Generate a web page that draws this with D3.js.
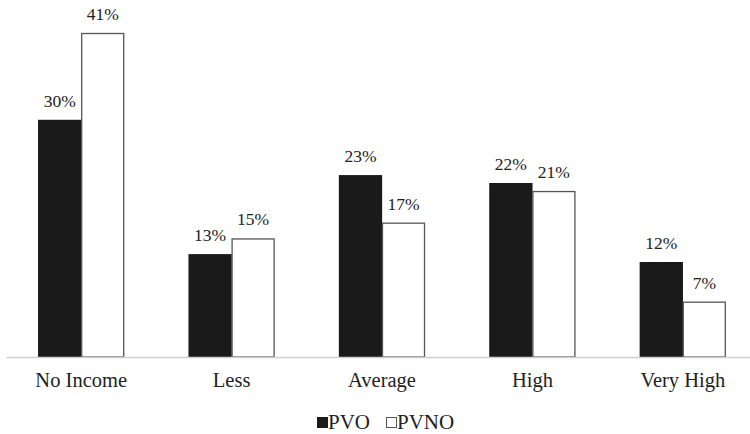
<!DOCTYPE html>
<html>
<head>
<meta charset="utf-8">
<script src="https://cdn.jsdelivr.net/npm/d3@7"></script>
<style>
  html, body { margin: 0; padding: 0; background: #fff; }
  svg { display: block; }
  #chart text { font-family: 'Liberation Serif', 'Times New Roman', Tinos; }
</style>
</head>
<body>
<svg id="chart" width="750" height="434"></svg>
<script>
// Income groups and the share of each group in the two samples (%)
const categories = ["No Income", "Less", "Average", "High", "Very High"];
const seriesNames = ["PVO", "PVNO"];
const pvo  = [30, 13, 23, 22, 12];
const pvno = [41, 15, 17, 21, 7];

const svg = d3.select("#chart");

const x = d3.scaleBand().domain(categories).range([6, 758]);
const xs = d3.scaleBand().domain(seriesNames).range([0, 86]);
const y = d3.scaleLinear().domain([0, 41]).range([357, 33]);

const fills = { PVO: "#1a1a1a", PVNO: "#ffffff" };
const strokes = { PVO: "#1a1a1a", PVNO: "#555555" };

const rows = categories.map((c, i) => ({ cat: c, PVO: pvo[i], PVNO: pvno[i] }));

const groups = svg.append("g").selectAll("g")
  .data(rows).join("g")
  .attr("transform", d => `translate(${x(d.cat) + x.bandwidth() / 2 - 43},0)`);

groups.selectAll("rect")
  .data(d => seriesNames.map(s => ({ s, v: d[s] })))
  .join("rect")
  .attr("x", d => xs(d.s) + 0.5)
  .attr("y", d => y(d.v) + 0.5)
  .attr("width", xs.bandwidth() - 1)
  .attr("height", d => y(0) - y(d.v) - 0.5)
  .attr("fill", d => fills[d.s])
  .attr("stroke", d => strokes[d.s])
  .attr("stroke-width", 1.3);

groups.selectAll("text.val")
  .data(d => seriesNames.map(s => ({ s, v: d[s] })))
  .join("text")
  .attr("class", "val")
  .attr("x", d => xs(d.s) + xs.bandwidth() / 2)
  .attr("y", d => y(d.v) - 13)
  .attr("text-anchor", "middle")
  .style("font-size", "17.5px")
  .attr("fill", "#222")
  .text(d => d.v + "%");

// Category axis: a single light baseline, no ticks
const axis = svg.append("g")
  .attr("transform", `translate(0,${y(0)})`)
  .call(d3.axisBottom(x).tickSize(0).tickPadding(15));
axis.select(".domain").attr("stroke", "#cfcfcf").attr("stroke-width", 1.3);
axis.selectAll("text")
  .style("font-family", "'Liberation Serif', 'Times New Roman', Tinos")
  .style("font-size", "20.5px")
  .attr("fill", "#222");

// Legend
const legend = svg.append("g").attr("transform", "translate(317,429)");
const items = [
  { name: "PVO", x: 0 },
  { name: "PVNO", x: 69 }
];
items.forEach(it => {
  legend.append("rect")
    .attr("x", it.x + 0.5).attr("y", -11.5)
    .attr("width", 10).attr("height", 10)
    .attr("fill", fills[it.name])
    .attr("stroke", strokes[it.name]).attr("stroke-width", 1);
  legend.append("text")
    .attr("x", it.x + 11).attr("y", 0)
    .style("font-size", "21px")
    .attr("fill", "#222")
    .text(it.name);
});
</script>
</body>
</html>
